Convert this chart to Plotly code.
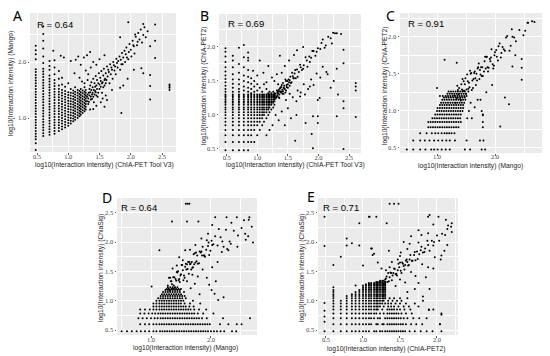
import plotly.graph_objects as go

# ---------------- data (log10 interaction intensities) ----------------
# Panel A: x = ChIA-PET Tool V3, y = Mango
a_columns = [
    (0.48, [0.43, 0.55, 0.62, 0.67, 0.72, 0.77, 0.82, 0.87, 0.92, 0.97, 1.02, 1.07, 1.12, 1.17, 1.22, 1.27,
            1.32, 1.37, 1.42, 1.47, 1.52, 1.57, 1.62, 1.67, 1.72, 1.77, 1.82, 1.87, 2.05, 2.14, 2.21, 2.29]),
    (0.60, [0.68, 0.73, 0.78, 0.83, 0.88, 0.93, 0.98, 1.03, 1.08, 1.13, 1.18, 1.23, 1.28, 1.33, 1.38, 1.43,
            1.48, 1.53, 1.58, 1.63, 1.68, 1.73, 1.78, 1.83, 1.88, 1.98, 2.10, 2.24, 2.38, 2.50, 2.64]),
    (0.70, [0.70, 0.75, 0.80, 0.85, 0.90, 0.95, 1.00, 1.05, 1.10, 1.15, 1.20, 1.25, 1.30, 1.35, 1.40, 1.45,
            1.50, 1.55, 1.60, 1.65, 1.70, 1.76, 1.86, 1.93, 2.02]),
    (0.78, [0.72, 0.77, 0.82, 0.87, 0.92, 0.97, 1.02, 1.07, 1.12, 1.17, 1.22, 1.27, 1.32, 1.37, 1.42, 1.47,
            1.52, 1.57, 1.62, 1.68, 1.78, 1.90, 2.03]),
    (0.85, [0.77, 0.82, 0.87, 0.92, 0.97, 1.02, 1.07, 1.12, 1.17, 1.22, 1.27, 1.32, 1.37, 1.42, 1.47, 1.52,
            1.58, 1.70, 1.84]),
    (0.90, [0.80, 0.85, 0.90, 0.95, 1.00, 1.05, 1.10, 1.15, 1.20, 1.25, 1.30, 1.35, 1.40, 1.45, 1.50, 1.60, 1.72]),
    (0.95, [0.83, 0.88, 0.93, 0.98, 1.03, 1.08, 1.13, 1.18, 1.23, 1.28, 1.33, 1.38, 1.43, 1.48, 1.56]),
    (1.00, [0.86, 0.91, 0.96, 1.01, 1.06, 1.11, 1.16, 1.21, 1.26, 1.31, 1.36, 1.41, 1.46, 1.62]),
    (1.04, [0.90, 0.95, 1.00, 1.05, 1.10, 1.15, 1.20, 1.25, 1.30, 1.35, 1.40, 1.45, 1.52]),
    (1.08, [0.94, 0.99, 1.04, 1.09, 1.14, 1.19, 1.24, 1.29, 1.34, 1.39, 1.44, 1.49]),
    (1.11, [0.97, 1.02, 1.07, 1.12, 1.17, 1.22, 1.27, 1.32, 1.37, 1.42, 1.47, 1.55]),
    (1.15, [1.00, 1.05, 1.10, 1.15, 1.20, 1.25, 1.30, 1.35, 1.40, 1.45, 1.50]),
    (1.18, [1.03, 1.08, 1.13, 1.18, 1.23, 1.28, 1.33, 1.38, 1.43, 1.48]),
    (1.20, [1.06, 1.11, 1.16, 1.21, 1.26, 1.31, 1.36, 1.41, 1.46, 1.52]),
    (1.23, [1.09, 1.14, 1.19, 1.24, 1.29, 1.34, 1.39, 1.44, 1.49]),
    (1.26, [1.12, 1.17, 1.22, 1.27, 1.32, 1.37, 1.42, 1.47, 1.55]),
    (1.28, [1.15, 1.20, 1.25, 1.30, 1.35, 1.40, 1.45, 1.50]),
]
a_points = [
    (1.30, 1.38), (1.32, 1.25), (1.33, 1.45), (1.34, 1.52), (1.35, 1.58), (1.36, 1.33), (1.37, 1.64), (1.38, 1.42),
    (1.39, 1.55), (1.40, 1.70), (1.41, 1.28), (1.42, 1.62), (1.43, 1.48), (1.44, 1.75), (1.45, 1.58), (1.46, 1.68),
    (1.47, 1.38), (1.48, 1.62), (1.49, 1.80), (1.50, 1.52), (1.51, 1.72), (1.52, 1.66), (1.53, 1.84), (1.54, 1.45),
    (1.55, 1.64), (1.56, 1.76), (1.57, 1.88), (1.58, 1.58), (1.59, 1.70), (1.60, 1.80), (1.61, 1.68), (1.62, 1.92),
    (1.63, 1.74), (1.64, 1.86), (1.65, 1.82), (1.66, 1.62), (1.67, 1.96), (1.68, 1.78), (1.69, 1.90), (1.70, 1.86),
    (1.71, 1.70), (1.72, 2.00), (1.73, 1.94), (1.74, 1.85), (1.75, 1.92), (1.76, 1.78), (1.77, 2.06), (1.78, 1.98),
    (1.79, 1.90), (1.80, 2.02), (1.82, 2.10), (1.83, 1.86), (1.84, 2.04), (1.85, 1.96), (1.86, 2.16), (1.87, 1.96),
    (1.88, 2.08), (1.90, 2.20), (1.91, 2.00), (1.92, 2.14), (1.93, 2.26), (1.94, 2.08), (1.96, 2.05), (1.97, 2.18),
    (1.98, 2.32), (2.00, 2.22), (2.01, 2.10), (2.03, 2.38), (2.04, 2.30), (2.05, 2.28), (2.06, 2.15), (2.08, 2.45),
    (2.10, 2.30), (2.11, 2.36), (2.12, 2.52), (2.14, 2.40), (2.16, 2.58), (2.18, 2.35), (2.20, 2.48), (2.22, 2.62),
    (2.24, 2.44), (2.27, 2.55),
    (1.96, 2.71), (2.20, 2.68), (2.39, 2.67), (2.07, 2.49), (1.83, 2.44), (2.39, 2.38), (2.31, 2.28), (2.39, 2.07),
    (2.31, 1.77), (2.31, 1.57), (2.31, 1.33), (1.85, 1.09), (2.62, 1.50), (2.62, 1.54), (2.62, 1.57), (2.62, 1.60),
    (2.17, 1.89), (2.20, 1.80), (1.83, 1.54), (1.88, 1.58), (1.95, 1.70), (2.05, 1.86), (1.70, 1.50), (1.60, 1.40),
    (1.55, 1.35), (1.45, 1.22), (1.40, 1.16), (1.35, 1.15), (1.52, 1.28), (1.62, 1.32), (1.58, 1.20),
    (0.76, 2.20), (0.88, 2.11), (0.93, 2.08), (1.04, 2.02), (1.16, 2.10), (1.12, 2.04), (1.25, 2.08), (1.30, 2.12),
    (1.20, 1.95), (1.35, 2.18), (1.40, 2.00), (1.28, 1.85), (1.10, 1.80), (1.18, 1.72), (1.22, 1.65), (1.32, 1.78),
    (1.36, 1.90), (1.45, 1.95), (1.50, 2.05), (1.58, 2.12), (1.26, 1.62), (1.31, 1.68),
    (1.30, 1.30), (1.31, 1.42), (1.32, 1.35), (1.33, 1.29), (1.34, 1.40), (1.35, 1.46), (1.36, 1.38), (1.37, 1.50),
    (1.38, 1.34), (1.39, 1.45), (1.40, 1.38), (1.41, 1.50), (1.42, 1.42), (1.43, 1.56), (1.44, 1.46), (1.45, 1.40),
    (1.46, 1.52), (1.48, 1.45), (1.50, 1.60), (1.52, 1.56), (1.54, 1.62), (1.56, 1.55), (1.58, 1.68), (1.60, 1.62),
]

# Panel B: x = ChIA-PET Tool V3, y = ChIA-PET2
b_columns = [
    (0.48, [0.48, 0.60, 0.70, 0.78, 0.85, 0.90, 0.95, 1.00, 1.04, 1.08, 1.11, 1.15, 1.18, 1.20, 1.23, 1.26, 1.28,
            1.30, 1.34, 1.38, 1.43, 1.48, 1.53, 1.58, 1.64, 1.70, 1.78, 1.86, 1.93, 1.98]),
    (0.60, [0.48, 0.60, 0.70, 0.78, 0.85, 0.90, 0.95, 1.00, 1.04, 1.08, 1.11, 1.15, 1.18, 1.20, 1.23, 1.26, 1.28,
            1.30, 1.34, 1.40, 1.46, 1.52, 1.60, 1.70, 1.80, 1.87]),
    (0.70, [0.48, 0.60, 0.70, 0.78, 0.85, 0.90, 0.95, 1.00, 1.04, 1.08, 1.11, 1.15, 1.18, 1.20, 1.23, 1.26, 1.28,
            1.30, 1.34, 1.38, 1.45, 1.52, 1.62, 1.75, 1.99]),
    (0.78, [0.48, 0.60, 0.70, 0.78, 0.85, 0.90, 0.95, 1.00, 1.04, 1.08, 1.11, 1.15, 1.18, 1.20, 1.23, 1.26, 1.28,
            1.30, 1.36, 1.42, 1.50, 1.58, 1.70, 1.85, 2.03]),
    (0.85, [0.48, 0.60, 0.70, 0.78, 0.85, 0.90, 0.95, 1.00, 1.04, 1.08, 1.11, 1.15, 1.18, 1.20, 1.23, 1.26, 1.28,
            1.30, 1.34, 1.40, 1.48, 1.56, 1.66, 1.80, 1.92]),
    (0.90, [0.60, 0.70, 0.78, 0.85, 0.90, 0.95, 1.00, 1.04, 1.08, 1.11, 1.15, 1.18, 1.20, 1.23, 1.26, 1.28, 1.30,
            1.32, 1.38, 1.46, 1.54]),
    (0.95, [0.60, 0.78, 0.85, 0.90, 0.95, 1.00, 1.04, 1.08, 1.11, 1.15, 1.18, 1.20, 1.23, 1.26, 1.28, 1.30, 1.34,
            1.42, 1.50]),
    (1.00, [0.70, 0.85, 0.90, 0.95, 1.00, 1.04, 1.08, 1.11, 1.15, 1.18, 1.20, 1.23, 1.26, 1.28, 1.30, 1.36, 1.45, 1.58]),
    (1.04, [0.78, 0.90, 0.95, 1.00, 1.04, 1.08, 1.11, 1.15, 1.18, 1.20, 1.23, 1.26, 1.28, 1.30, 1.40]),
    (1.08, [0.85, 0.95, 1.00, 1.04, 1.08, 1.11, 1.15, 1.18, 1.20, 1.23, 1.26, 1.28, 1.30, 1.34]),
    (1.11, [0.90, 1.00, 1.04, 1.08, 1.11, 1.15, 1.18, 1.20, 1.23, 1.26, 1.28, 1.30, 1.45]),
    (1.15, [0.95, 1.04, 1.08, 1.11, 1.15, 1.18, 1.20, 1.23, 1.26, 1.28, 1.30, 1.38]),
    (1.18, [1.00, 1.08, 1.11, 1.15, 1.18, 1.20, 1.23, 1.26, 1.28, 1.30, 1.32]),
    (1.20, [1.04, 1.11, 1.15, 1.18, 1.20, 1.23, 1.26, 1.28, 1.30, 1.34]),
    (1.23, [1.08, 1.15, 1.18, 1.20, 1.23, 1.26, 1.28, 1.30, 1.32]),
    (1.26, [1.11, 1.18, 1.20, 1.23, 1.26, 1.28, 1.30, 1.34]),
    (1.28, [1.15, 1.20, 1.23, 1.26, 1.28, 1.30, 1.32]),
]
b_points = [
    (1.29, 1.28), (1.30, 1.24), (1.32, 1.36), (1.33, 1.29), (1.34, 1.35), (1.36, 1.25), (1.37, 1.35), (1.38, 1.40),
    (1.40, 1.34), (1.41, 1.31), (1.42, 1.47), (1.44, 1.43), (1.45, 1.38), (1.47, 1.50), (1.48, 1.44), (1.50, 1.40),
    (1.51, 1.52), (1.53, 1.51), (1.55, 1.47), (1.57, 1.62), (1.59, 1.54), (1.61, 1.61), (1.63, 1.54), (1.65, 1.67),
    (1.68, 1.63), (1.70, 1.74), (1.73, 1.66), (1.76, 1.73), (1.79, 1.85), (1.82, 1.71), (1.85, 1.86), (1.88, 1.84),
    (1.92, 1.94), (1.95, 1.87), (1.99, 1.98), (2.03, 1.97), (2.07, 2.11), (2.12, 2.02), (2.16, 2.15), (2.20, 2.13),
    (1.31, 1.26), (1.33, 1.33), (1.35, 1.26), (1.37, 1.39), (1.39, 1.34), (1.40, 1.44), (1.42, 1.35), (1.43, 1.40),
    (1.46, 1.52), (1.47, 1.36), (1.49, 1.50), (1.52, 1.48), (1.54, 1.56), (1.56, 1.48), (1.58, 1.57), (1.60, 1.54),
    (1.62, 1.66), (1.66, 1.56), (1.71, 1.70), (1.75, 1.68), (1.81, 1.80), (1.86, 1.78), (1.90, 1.94), (1.97, 1.93),
    (2.05, 2.06), (2.10, 1.99),
    (1.30, 1.31), (1.32, 1.27), (1.34, 1.32), (1.35, 1.37), (1.36, 1.30), (1.38, 1.33), (1.39, 1.41), (1.41, 1.37),
    (1.43, 1.31), (1.44, 1.39), (1.46, 1.33), (1.48, 1.41), (1.50, 1.45), (1.53, 1.43),
    (2.24, 2.21), (2.30, 2.20), (2.37, 2.19), (2.22, 2.05),
    (1.47, 1.22), (1.53, 1.31), (1.58, 1.26), (1.66, 1.36), (1.70, 1.27), (1.76, 1.45), (1.83, 1.38), (1.88, 1.52),
    (1.92, 1.44), (1.97, 1.61), (2.03, 1.55), (2.07, 1.71), (2.13, 1.63), (1.99, 1.22), (2.02, 1.25), (1.71, 1.33),
    (1.78, 1.30), (1.64, 1.20), (1.86, 1.42),
    (0.85, 1.84), (0.93, 1.65), (1.04, 1.80), (1.18, 1.72), (1.32, 1.60), (1.37, 1.87), (1.34, 1.45), (1.24, 1.55),
    (1.10, 1.62), (1.45, 1.72), (1.52, 1.80), (1.60, 1.88), (1.28, 1.50), (1.15, 1.48), (1.40, 1.62), (1.75, 2.00),
    (1.65, 1.95),
    (2.61, 1.47), (2.61, 1.42), (2.61, 1.36), (2.61, 0.97), (2.41, 1.96), (2.41, 1.76), (2.41, 1.20), (2.41, 1.10),
    (2.30, 0.98), (2.30, 1.68), (2.32, 1.30), (2.27, 2.20), (1.99, 0.98), (1.99, 0.88), (1.91, 0.98), (1.89, 0.72),
    (1.91, 0.51), (2.41, 0.50), (1.79, 0.88), (1.62, 0.62), (1.64, 1.00), (2.25, 1.50), (2.15, 1.60), (2.20, 1.40),
    (1.50, 1.10), (1.40, 1.05), (1.55, 0.95), (1.45, 0.85), (1.35, 0.92), (1.30, 1.00), (1.25, 0.85), (1.20, 0.78),
    (1.15, 0.70),
]

# Panel C: x = Mango, y = ChIA-PET2
c_rows = [
    (0.48, [0.48, 0.59, 0.71, 0.80, 0.90, 0.95, 1.01, 1.08, 1.15, 1.22, 1.48, 1.57, 1.77, 1.83]),
    (0.60, [0.59, 0.71, 0.79, 0.87, 0.95, 1.02, 1.09, 1.16, 1.22, 1.31, 1.51, 1.74, 1.80]),
    (0.70, [0.71, 0.82, 0.91, 0.97, 1.02, 1.08, 1.13, 1.17, 1.21, 1.25, 1.30]),
    (0.78, [0.85, 0.89, 0.93, 0.97, 1.01, 1.05, 1.09, 1.13, 1.17, 1.21, 1.25, 1.29, 1.33, 1.37, 1.79]),
    (0.85, [0.85, 0.89, 0.93, 0.97, 1.01, 1.05, 1.09, 1.13, 1.17, 1.21, 1.25, 1.29, 1.33, 1.37, 1.41, 1.79]),
    (0.90, [0.92, 0.96, 1.00, 1.04, 1.08, 1.12, 1.16, 1.20, 1.24, 1.28, 1.32, 1.36, 1.40, 1.52, 1.60]),
    (0.95, [0.97, 1.01, 1.05, 1.09, 1.13, 1.17, 1.21, 1.25, 1.29, 1.33, 1.37, 1.41, 1.79]),
    (1.00, [1.00, 1.04, 1.08, 1.12, 1.16, 1.20, 1.24, 1.28, 1.32, 1.36, 1.40, 1.44, 1.77]),
    (1.04, [1.01, 1.05, 1.09, 1.13, 1.17, 1.21, 1.25, 1.29, 1.33, 1.37, 1.41, 1.45]),
    (1.08, [1.05, 1.09, 1.13, 1.17, 1.21, 1.25, 1.29, 1.33, 1.37, 1.41, 1.45]),
    (1.11, [1.07, 1.11, 1.15, 1.19, 1.23, 1.27, 1.31, 1.35, 1.39, 1.43, 1.47, 1.58]),
    (1.15, [1.09, 1.13, 1.17, 1.21, 1.25, 1.29, 1.33, 1.37, 1.41, 1.45, 1.49, 1.75]),
    (1.18, [1.12, 1.16, 1.20, 1.24, 1.28, 1.32, 1.36, 1.40, 1.44, 1.48]),
    (1.20, [1.15, 1.19, 1.23, 1.27, 1.31, 1.35, 1.39, 1.43, 1.47, 1.51]),
    (1.23, [1.18, 1.22, 1.26, 1.30, 1.34, 1.38, 1.42, 1.46, 1.50]),
    (1.26, [1.20, 1.24, 1.28, 1.32, 1.36, 1.40, 1.44, 1.48, 1.54]),
]
c_points = [
    (1.30, 1.21), (1.32, 1.11), (1.35, 1.34), (1.37, 1.22), (1.38, 1.31), (1.41, 1.14), (1.43, 1.29), (1.46, 1.40),
    (1.47, 1.27), (1.50, 1.23), (1.52, 1.49), (1.53, 1.40), (1.56, 1.32), (1.58, 1.50), (1.61, 1.41), (1.62, 1.31),
    (1.65, 1.53), (1.68, 1.50), (1.69, 1.41), (1.72, 1.64), (1.75, 1.49), (1.76, 1.59), (1.79, 1.47), (1.82, 1.67),
    (1.84, 1.57), (1.86, 1.73), (1.89, 1.58), (1.92, 1.67), (1.94, 1.83), (1.97, 1.57), (2.00, 1.79), (2.03, 1.73),
    (2.06, 1.87), (2.10, 1.72), (2.13, 1.86), (2.17, 1.81), (2.21, 2.01), (2.25, 1.81), (2.30, 2.00), (2.36, 1.94),
    (2.42, 2.09), (2.49, 2.02), (2.56, 2.19), (2.64, 2.21),
    (1.34, 1.17), (1.36, 1.28), (1.40, 1.16), (1.42, 1.36), (1.45, 1.27), (1.49, 1.44), (1.51, 1.29), (1.55, 1.38),
    (1.57, 1.54), (1.60, 1.28), (1.64, 1.51), (1.66, 1.44), (1.71, 1.59), (1.73, 1.43), (1.78, 1.59), (1.81, 1.53),
    (1.85, 1.73), (1.88, 1.53), (1.91, 1.70), (1.96, 1.63), (1.99, 1.75), (2.05, 1.68), (2.08, 1.91), (2.15, 1.83),
    (1.44, 1.43), (1.48, 1.36), (1.54, 1.30), (1.59, 1.51), (1.63, 1.43), (1.67, 1.35), (1.70, 1.57), (1.74, 1.55),
    (1.77, 1.47), (1.83, 1.73), (1.87, 1.59), (1.93, 1.72), (1.98, 1.61), (2.02, 1.82), (2.11, 1.78), (2.19, 1.99),
    (2.27, 1.88), (2.33, 1.99),
    (2.57, 2.19), (2.68, 2.20), (2.52, 2.08), (2.29, 2.10),
    (1.13, 1.69), (1.34, 1.65), (1.00, 1.31), (1.05, 1.20), (1.10, 1.20), (2.46, 1.58), (2.46, 1.70), (2.46, 1.42),
    (2.24, 1.09), (2.17, 1.18), (2.09, 0.79), (1.79, 0.94), (1.65, 1.05), (1.55, 1.00), (1.70, 1.15), (1.85, 1.25),
    (1.95, 1.35), (2.30, 1.60), (2.35, 1.75),
]

# Panel D: x = Mango, y = ChiaSig
d_rows = [
    (0.48, [0.51, 0.60, 0.68, 0.76, 0.83, 0.90, 0.97, 1.04, 1.09, 1.15, 1.19, 1.23, 1.27, 1.31, 1.35, 1.39, 1.43,
            1.47, 1.51, 1.55, 1.59, 1.63, 1.67, 1.71, 1.75, 1.79, 1.83, 1.87, 1.91, 1.95, 2.00, 2.05, 2.10, 2.16,
            2.22, 2.35, 2.42]),
    (0.60, [0.82, 0.90, 0.97, 1.04, 1.09, 1.14, 1.18, 1.22, 1.26, 1.30, 1.34, 1.38, 1.42, 1.46, 1.50, 1.54, 1.58,
            1.62, 1.66, 1.70, 1.74, 1.78, 1.82, 1.86, 1.90, 1.94, 1.98, 2.15, 2.29, 2.43, 2.51]),
    (0.70, [0.79, 0.86, 0.93, 1.00, 1.06, 1.11, 1.16, 1.20, 1.24, 1.28, 1.32, 1.36, 1.40, 1.44, 1.48, 1.52, 1.56,
            1.60, 1.64, 1.68, 1.72, 1.76, 1.80, 1.85, 1.93, 2.20, 2.65]),
    (0.78, [0.82, 0.89, 0.96, 1.02, 1.07, 1.12, 1.16, 1.20, 1.24, 1.28, 1.32, 1.36, 1.40, 1.44, 1.48, 1.52, 1.56,
            1.60, 1.64, 1.68, 1.72, 1.78, 1.87, 2.04]),
    (0.85, [0.82, 0.90, 0.98, 1.04, 1.09, 1.14, 1.18, 1.22, 1.26, 1.30, 1.34, 1.38, 1.42, 1.46, 1.50, 1.54, 1.58,
            1.62, 1.66, 1.72, 1.80, 1.92]),
    (0.90, [1.04, 1.09, 1.14, 1.18, 1.22, 1.26, 1.30, 1.34, 1.38, 1.42, 1.46, 1.50, 1.54, 1.58, 1.64, 1.71]),
    (0.95, [1.04, 1.09, 1.14, 1.18, 1.22, 1.26, 1.30, 1.34, 1.38, 1.42, 1.46, 1.50, 1.56, 1.65, 1.82]),
    (1.00, [1.09, 1.14, 1.18, 1.22, 1.26, 1.30, 1.34, 1.38, 1.42, 1.46, 1.50, 1.54, 1.70]),
    (1.04, [1.12, 1.16, 1.20, 1.24, 1.28, 1.32, 1.36, 1.40, 1.44, 1.48, 1.52, 1.58]),
    (1.08, [1.16, 1.20, 1.24, 1.28, 1.32, 1.36, 1.40, 1.44, 1.48, 1.52, 1.56]),
    (1.11, [1.18, 1.22, 1.26, 1.30, 1.34, 1.38, 1.42, 1.46, 1.50]),
    (1.15, [1.20, 1.24, 1.28, 1.32, 1.36, 1.40, 1.44, 1.48, 1.55]),
    (1.18, [1.24, 1.28, 1.32, 1.36, 1.40, 1.44, 1.48]),
    (1.20, [1.26, 1.30, 1.34, 1.38, 1.42, 1.46, 1.50]),
    (1.23, [1.28, 1.32, 1.36, 1.40, 1.44]),
]
d_points = [
    (1.28, 1.26), (1.31, 1.17), (1.32, 1.39), (1.35, 1.28), (1.39, 1.40), (1.40, 1.22), (1.41, 1.37), (1.44, 1.48),
    (1.47, 1.37), (1.48, 1.32), (1.52, 1.61), (1.53, 1.52), (1.55, 1.43), (1.58, 1.63), (1.59, 1.53), (1.63, 1.46),
    (1.64, 1.66), (1.66, 1.63), (1.70, 1.57), (1.71, 1.79), (1.74, 1.65), (1.77, 1.77), (1.78, 1.63), (1.81, 1.84),
    (1.85, 1.77), (1.86, 1.92), (1.88, 1.77), (1.92, 1.87), (1.93, 2.03), (1.97, 1.78), (2.01, 2.02), (2.02, 1.95),
    (2.07, 2.10), (2.11, 1.94), (2.16, 2.08), (2.19, 2.01), (2.25, 2.21), (2.31, 2.01), (2.38, 2.19), (2.45, 2.11),
    (2.51, 2.24), (2.57, 2.14), (2.63, 2.38), (2.68, 2.26),
    (1.29, 1.20), (1.33, 1.33), (1.36, 1.21), (1.37, 1.40), (1.42, 1.34), (1.43, 1.49), (1.46, 1.35), (1.50, 1.45),
    (1.51, 1.61), (1.54, 1.35), (1.57, 1.58), (1.61, 1.54), (1.62, 1.66), (1.67, 1.53), (1.68, 1.66), (1.72, 1.62),
    (1.75, 1.82), (1.80, 1.64), (1.83, 1.82), (1.89, 1.77), (1.95, 1.93), (1.99, 1.85),
    (1.30, 1.39), (1.34, 1.33), (1.38, 1.26), (1.45, 1.50), (1.49, 1.43), (1.56, 1.39), (1.60, 1.62), (1.65, 1.62),
    (1.69, 1.56), (1.73, 1.81), (1.76, 1.67), (1.84, 1.84), (1.90, 1.75), (1.96, 1.99), (2.04, 1.96),
    (2.29, 1.86), (2.44, 1.92), (2.58, 2.04), (2.21, 1.92), (2.62, 2.10), (2.70, 1.99),
    (1.60, 1.33), (1.69, 1.44), (1.78, 1.41), (1.86, 1.53), (1.93, 1.39), (1.97, 1.27), (2.01, 1.18), (2.06, 1.12),
    (2.02, 1.57), (2.11, 1.66), (2.18, 1.83), (2.27, 1.88), (2.33, 1.97), (2.08, 1.33), (2.12, 1.01), (2.21, 1.06),
    (1.81, 1.11), (1.66, 1.21), (1.73, 1.29),
    (1.58, 2.65), (1.61, 2.65), (1.64, 2.65), (1.35, 2.35), (1.60, 2.35), (1.79, 2.35), (2.07, 2.42), (2.26, 2.42),
    (2.43, 2.42), (2.64, 2.42), (1.14, 1.86), (1.01, 1.24), (1.57, 1.86), (1.47, 1.74), (1.43, 1.60), (1.36, 1.55),
    (1.53, 1.69), (1.65, 1.87), (1.74, 1.95), (1.84, 2.06), (1.95, 2.14), (2.02, 2.29), (2.13, 2.22), (2.34, 2.33),
    (2.55, 2.37),
]

# Panel E: x = ChIA-PET2, y = ChiaSig
e_columns = [
    (0.48, [0.48, 0.64, 0.73, 0.83, 0.96, 1.93, 2.43]),
    (0.60, [0.48, 0.60, 0.70, 0.78, 0.85, 0.90, 0.95, 1.00, 1.04, 1.08, 1.11, 1.15, 1.18, 1.23, 1.61]),
    (0.70, [0.48, 0.60, 0.70, 0.78, 0.85, 0.90, 0.95, 1.00, 1.75]),
    (0.78, [0.48, 0.60, 0.70, 0.78, 0.85, 0.90, 0.95, 1.00, 1.04, 1.08, 1.94, 2.06]),
    (0.85, [0.48, 0.60, 0.70, 0.78, 0.85, 0.90, 0.95, 1.00, 1.04, 1.08, 1.11, 1.98]),
    (0.90, [0.48, 0.60, 0.70, 0.78, 0.85, 0.90, 0.95, 1.00, 1.04, 1.08, 1.11, 1.15, 1.26]),
    (0.95, [0.48, 0.60, 0.70, 0.78, 0.85, 0.90, 0.95, 1.00, 1.04, 1.08, 1.11, 1.15, 1.18, 1.94, 2.32]),
    (1.00, [0.48, 0.60, 0.70, 0.78, 0.85, 0.90, 0.95, 1.00, 1.04, 1.08, 1.11, 1.15, 1.18, 1.20, 1.23, 1.26]),
    (1.04, [0.48, 0.60, 0.70, 0.78, 0.85, 0.90, 0.95, 1.00, 1.04, 1.08, 1.11, 1.15, 1.18, 1.20, 1.23, 1.26, 1.28]),
    (1.08, [0.48, 0.60, 0.70, 0.78, 0.85, 0.90, 0.95, 1.00, 1.04, 1.08, 1.11, 1.15, 1.18, 1.20, 1.23, 1.26, 1.28,
            1.30, 2.43]),
    (1.11, [0.60, 0.70, 0.78, 0.85, 0.90, 0.95, 1.00, 1.04, 1.08, 1.11, 1.15, 1.18, 1.20, 1.23, 1.26, 1.28, 1.30, 1.89]),
    (1.15, [0.48, 0.70, 0.78, 0.85, 0.90, 0.95, 1.00, 1.04, 1.08, 1.11, 1.15, 1.18, 1.20, 1.23, 1.26, 1.28, 1.30, 1.80]),
    (1.18, [0.48, 0.60, 0.78, 0.85, 0.90, 0.95, 1.00, 1.04, 1.08, 1.11, 1.15, 1.18, 1.20, 1.23, 1.26, 1.28, 1.30,
            1.32, 2.43]),
    (1.20, [0.60, 0.70, 0.85, 0.90, 0.95, 1.00, 1.04, 1.08, 1.11, 1.15, 1.18, 1.20, 1.23, 1.26, 1.28, 1.30, 1.32]),
    (1.23, [0.48, 0.70, 0.78, 0.90, 0.95, 1.00, 1.04, 1.08, 1.11, 1.15, 1.18, 1.20, 1.23, 1.26, 1.28, 1.30, 1.32, 1.34]),
    (1.26, [0.48, 0.60, 0.85, 0.95, 1.00, 1.04, 1.08, 1.11, 1.15, 1.18, 1.20, 1.23, 1.26, 1.28, 1.30, 1.32, 1.34]),
    (1.28, [0.60, 0.78, 0.90, 1.00, 1.04, 1.08, 1.11, 1.15, 1.18, 1.20, 1.23, 1.26, 1.28, 1.30, 1.34]),
    (1.30, [0.48, 0.70, 0.95, 1.04, 1.08, 1.11, 1.15, 1.18, 1.20, 1.23, 1.26, 1.28, 1.30, 1.32, 1.36]),
]
e_rows = [
    (0.48, [1.33, 1.36, 1.39, 1.42, 1.45, 1.48, 1.51, 1.54, 1.57, 1.63, 1.70, 1.78, 1.86, 1.94, 2.06]),
    (0.60, [1.33, 1.36, 1.39, 1.42, 1.45, 1.48, 1.51, 1.54, 1.58, 1.65, 1.72, 1.80, 2.04]),
    (0.70, [1.33, 1.36, 1.39, 1.42, 1.45, 1.48, 1.51, 1.55, 1.60, 1.68, 1.76, 1.86]),
    (0.78, [1.33, 1.36, 1.39, 1.42, 1.45, 1.48, 1.52, 1.58, 1.66, 2.06]),
    (0.85, [1.33, 1.36, 1.39, 1.42, 1.46, 1.50, 1.56, 1.64, 1.89, 1.95]),
    (0.90, [1.34, 1.38, 1.42, 1.48, 1.55, 1.62, 1.75]),
    (0.95, [1.34, 1.38, 1.44, 1.50, 1.58, 1.70]),
    (1.00, [1.34, 1.40, 1.46, 1.52, 1.81]),
    (1.04, [1.36, 1.42, 1.50, 1.60]),
]
e_points = [
    (1.31, 1.38), (1.33, 1.32), (1.34, 1.47), (1.36, 1.40), (1.38, 1.47), (1.39, 1.35), (1.41, 1.47), (1.43, 1.54),
    (1.44, 1.45), (1.46, 1.43), (1.48, 1.63), (1.49, 1.57), (1.51, 1.51), (1.53, 1.65), (1.55, 1.59), (1.56, 1.53),
    (1.58, 1.68), (1.60, 1.66), (1.62, 1.61), (1.64, 1.78), (1.66, 1.68), (1.69, 1.78), (1.71, 1.69), (1.73, 1.84),
    (1.76, 1.79), (1.79, 1.92), (1.81, 1.82), (1.84, 1.89), (1.87, 2.02), (1.90, 1.85), (1.93, 2.02), (1.96, 2.00),
    (2.00, 2.11), (2.03, 2.02), (2.07, 2.14), (2.11, 2.12), (2.15, 2.28), (2.20, 2.17), (2.20, 2.32), (2.19, 2.26),
    (2.14, 2.22),
    (1.30, 1.32), (1.32, 1.41), (1.35, 1.33), (1.37, 1.48), (1.40, 1.43), (1.42, 1.55), (1.45, 1.46), (1.47, 1.52),
    (1.50, 1.65), (1.52, 1.47), (1.54, 1.63), (1.57, 1.61), (1.59, 1.70), (1.61, 1.60), (1.63, 1.70), (1.67, 1.68),
    (1.70, 1.83), (1.74, 1.71), (1.78, 1.86), (1.83, 1.83), (1.88, 1.95), (1.95, 1.94),
    (1.31, 1.52), (1.36, 1.57), (1.39, 1.66), (1.47, 1.70), (1.51, 1.82), (1.60, 1.88), (1.63, 1.97), (1.75, 1.99),
    (1.79, 2.12), (1.88, 2.15), (1.44, 1.25), (1.50, 1.36), (1.57, 1.31), (1.65, 1.49), (1.71, 1.42), (1.80, 1.62),
    (1.88, 1.57), (1.97, 1.74), (2.06, 1.77), (2.14, 1.95),
    (1.36, 2.65), (1.42, 2.65), (1.48, 2.65), (1.09, 2.43), (1.32, 2.32), (1.88, 2.43), (1.90, 2.46), (2.02, 2.43),
    (1.12, 1.89), (1.13, 1.78), (1.50, 1.76), (2.06, 0.76), (2.04, 0.60), (1.89, 0.84), (1.81, 1.07), (1.70, 1.20),
    (1.75, 1.30), (1.85, 1.40), (1.95, 1.55), (2.05, 1.70), (2.10, 1.85), (1.60, 1.15), (1.90, 1.20), (1.25, 1.55),
    (1.20, 1.65), (1.00, 1.60), (1.35, 1.85), (1.55, 2.00), (1.65, 2.10), (1.75, 2.20), (1.95, 2.30), (2.12, 2.38),
]

panel_labels = ["A", "B", "C", "D", "E"]
r_labels = ["R = 0.64", "R = 0.69", "R = 0.91", "R = 0.64", "R = 0.71"]
x_titles = ["log10(Interaction intensity) (ChIA-PET Tool V3)",
            "log10(Interaction intensity) (ChIA-PET Tool V3)",
            "log10(Interaction intensity) (Mango)",
            "log10(Interaction intensity) (Mango)",
            "log10(Interaction intensity) (ChIA-PET2)"]
y_titles = ["log10(Interaction intensity) (Mango)",
            "log10(Interaction intensity) (ChIA-PET2)",
            "log10(Interaction intensity) (ChIA-PET2)",
            "log10(Interaction intensity) (ChiaSig)",
            "log10(Interaction intensity) (ChiaSig)"]


def collect(columns=(), rows=(), points=()):
    xs, ys = [], []
    for x, ylist in columns:
        for y in ylist:
            xs.append(x)
            ys.append(y)
    for y, xlist in rows:
        for x in xlist:
            xs.append(x)
            ys.append(y)
    for x, y in points:
        xs.append(x)
        ys.append(y)
    return xs, ys


panel_data = [
    collect(columns=a_columns, points=a_points),
    collect(columns=b_columns, points=b_points),
    collect(rows=c_rows, points=c_points),
    collect(rows=d_rows, points=d_points),
    collect(columns=e_columns, rows=e_rows, points=e_points),
]

# ---------------- layout (pixel geometry of the 550x356 figure) ----------------
W, H = 550, 356
boxes = [(30, 176, 13, 152), (219, 361, 14, 153), (400, 542, 13, 153),
         (117, 257, 198, 335), (318, 458, 198, 335)]
x_ranges = [(0.388, 2.724), (0.374, 2.696), (0.362, 2.81), (0.433, 2.767), (0.392, 2.284)]
y_ranges = [(0.393, 2.875), (0.44, 2.485), (0.432, 2.32), (0.415, 2.75), (0.415, 2.75)]
x_dticks = [0.5, 0.5, 1.0, 1.0, 0.5]
y_dticks = [1.0, 0.5, 0.5, 0.5, 0.5]
x_standoff = [-3, -3, -4, -3, -3]
label_pos = [(17, 15), (204, 15), (390, 15), (107, 197), (311, 196)]
r_pos = [(35, 24.5), (226, 24), (406, 24), (119, 207.5), (321, 207.5)]
xt_pos = [(104, 165), (295, 165), (470, 165.5), (185, 348), (386, 348.5)]
yt_pos = [(11, 84), (204, 86), (385, 86), (101, 268), (302, 268)]


def px(x):
    return x / W


def py(y):
    return 1 - y / H


fig = go.Figure()
layout = dict(width=W, height=H, margin=dict(l=0, r=0, t=0, b=0),
              paper_bgcolor="white", plot_bgcolor="#EBEBEB", showlegend=False,
              font=dict(family="Liberation Sans, Arial, sans-serif", color="#222"))
annotations = []
tick_font = dict(family="Liberation Serif, Times New Roman, serif", size=6.5, color="#444")

for i, (xs, ys) in enumerate(panel_data):
    n = "" if i == 0 else str(i + 1)
    fig.add_trace(go.Scatter(x=xs, y=ys, mode="markers", xaxis="x" + n, yaxis="y" + n,
                             marker=dict(color="black", size=2, line=dict(width=0)),
                             hoverinfo="skip"))
    l, r, t, b = boxes[i]
    common = dict(showgrid=True, gridcolor="white", gridwidth=1, zeroline=False, showline=False,
                  ticks="outside", ticklen=1.5, tickwidth=0.6, tickcolor="#555", tickformat=".1f",
                  tickfont=tick_font, tick0=0)
    layout["xaxis" + n] = dict(common, domain=[px(l), px(r)], range=list(x_ranges[i]),
                               dtick=x_dticks[i], anchor="y" + n, ticklabelstandoff=x_standoff[i],
                               minor=dict(dtick=x_dticks[i] / 2, tick0=0, showgrid=True,
                                          gridcolor="white", gridwidth=0.5, ticks=""))
    layout["yaxis" + n] = dict(common, domain=[py(b), py(t)], range=list(y_ranges[i]),
                               dtick=y_dticks[i], anchor="x" + n,
                               minor=dict(dtick=y_dticks[i] / 2, tick0=0, showgrid=True,
                                          gridcolor="white", gridwidth=0.5, ticks=""))
    lx, ly = label_pos[i]
    annotations.append(dict(text=panel_labels[i], x=px(lx), y=py(ly), xref="paper", yref="paper",
                            showarrow=False, xanchor="center", yanchor="middle",
                            font=dict(family="Noto Sans, sans-serif", size=14, color="black")))
    rx, ry = r_pos[i]
    annotations.append(dict(text=r_labels[i], x=px(rx), y=py(ry), xref="paper", yref="paper",
                            showarrow=False, xanchor="left", yanchor="middle",
                            font=dict(family="Liberation Sans, Arial, sans-serif", size=9.5, color="black")))
    tx, ty = xt_pos[i]
    annotations.append(dict(text=x_titles[i], x=px(tx), y=py(ty), xref="paper", yref="paper",
                            showarrow=False, xanchor="center", yanchor="middle",
                            font=dict(family="Liberation Sans, Arial, sans-serif", size=6.7, color="#222")))
    vx, vy = yt_pos[i]
    annotations.append(dict(text=y_titles[i], x=px(vx), y=py(vy), xref="paper", yref="paper",
                            showarrow=False, xanchor="center", yanchor="middle", textangle=-90,
                            font=dict(family="Liberation Sans, Arial, sans-serif", size=6.7, color="#222")))

layout["annotations"] = annotations
fig.update_layout(**layout)
fig.write_html("out.html", config={"displayModeBar": False},
               post_script="document.body.style.margin='0';document.body.style.overflow='hidden';")
